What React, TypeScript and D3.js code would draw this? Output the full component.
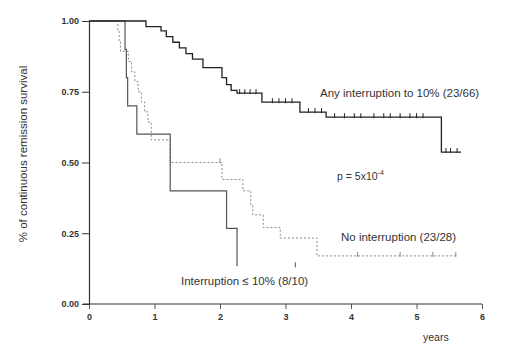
import * as d3 from "d3";
import { useEffect, useRef } from "react";

const WIDTH = 517;
const HEIGHT = 345;

// Kaplan-Meier step points (time in years, survival after each step)
const anyTimes = [0, 0.87, 1.1, 1.18, 1.28, 1.38, 1.48, 1.58, 1.74, 2.03, 2.1, 2.17, 2.26, 2.64, 3.22, 3.62, 5.38, 5.68];
const anySurv = [1, 0.98, 0.965, 0.945, 0.925, 0.905, 0.885, 0.865, 0.835, 0.8, 0.775, 0.755, 0.745, 0.713, 0.678, 0.66, 0.537, 0.537];
const anyCensored = [2.3, 2.38, 2.46, 2.55, 2.8, 2.9, 3.0, 3.1, 3.35, 3.45, 3.55, 3.75, 3.9, 4.05, 4.15, 4.35, 4.5, 4.6, 4.75, 4.9, 5.0, 5.1, 5.45, 5.52, 5.62];

const intTimes = [0, 0.55, 0.57, 0.59, 0.73, 1.24, 2.1, 2.26];
const intSurv = [1, 0.9, 0.8, 0.7, 0.6, 0.4, 0.267, 0.133];
const intCensored = [3.15];

const noTimes = [0, 0.44, 0.46, 0.48, 0.6, 0.65, 0.7, 0.75, 0.8, 0.85, 0.9, 0.95, 1.24, 2.03, 2.35, 2.47, 2.5, 2.66, 2.92, 3.48, 5.62];
const noSurv = [1, 0.964, 0.929, 0.893, 0.857, 0.821, 0.786, 0.75, 0.714, 0.679, 0.643, 0.58, 0.5, 0.44, 0.4, 0.35, 0.315, 0.27, 0.233, 0.17, 0.17];
const noCensored = [2.0, 4.1, 4.75, 5.25, 5.6];

const xTicks = [0, 1, 2, 3, 4, 5, 6];
const yTicks = [0, 0.25, 0.5, 0.75, 1];

export default function App() {
  const svgRef = useRef<SVGSVGElement>(null);

  useEffect(() => {
    const svg = d3.select(svgRef.current);
    svg.selectAll("*").remove();

    const x = d3.scaleLinear().domain([0, 6]).range([89, 482]);
    const y = d3.scaleLinear().domain([0, 1]).range([304, 21]);
    const font = "Liberation Sans, Arial, sans-serif";

    // axes
    const xAxis = svg
      .append("g")
      .attr("transform", "translate(0,304)")
      .call(d3.axisBottom(x).tickValues(xTicks).tickFormat(d3.format("d")).tickSize(5).tickSizeOuter(0));
    xAxis.select(".domain").attr("stroke", "#333").attr("stroke-width", 1.2).attr("d", "M83,0H482");
    xAxis.selectAll("line").attr("stroke", "#555");
    xAxis.selectAll("text").attr("font-family", font).attr("font-size", 9).attr("font-weight", "bold").attr("fill", "#333").attr("dy", "0.9em");

    const yAxis = svg
      .append("g")
      .attr("transform", "translate(89,0)")
      .call(d3.axisLeft(y).tickValues(yTicks).tickFormat(d3.format(".2f")).tickSize(7).tickSizeOuter(0));
    yAxis.select(".domain").attr("stroke", "#333").attr("stroke-width", 1.2);
    yAxis.selectAll("line").attr("stroke", "#333");
    yAxis.selectAll("text").attr("font-family", font).attr("font-size", 9).attr("font-weight", "bold").attr("fill", "#333");

    const stepLine = d3
      .line<[number, number]>()
      .x((d) => x(d[0]))
      .y((d) => y(d[1]))
      .curve(d3.curveStepAfter);

    const series = [
      { t: noTimes, s: noSurv, c: noCensored, color: "#888", width: 1, dash: "2,2" },
      { t: intTimes, s: intSurv, c: intCensored, color: "#555", width: 1.2, dash: null },
      { t: anyTimes, s: anySurv, c: anyCensored, color: "#222", width: 1.3, dash: null },
    ];

    series.forEach((ser) => {
      const pts: [number, number][] = ser.t.map((t, i) => [t, ser.s[i]]);
      svg
        .append("path")
        .datum(pts)
        .attr("fill", "none")
        .attr("stroke", ser.color)
        .attr("stroke-width", ser.width)
        .attr("stroke-dasharray", ser.dash)
        .attr("d", stepLine);

      ser.c.forEach((ct) => {
        const idx = Math.max(0, d3.bisectRight(ser.t, ct) - 1);
        const sv = ser.s[idx];
        svg
          .append("line")
          .attr("x1", x(ct))
          .attr("x2", x(ct))
          .attr("y1", y(sv) - 4)
          .attr("y2", y(sv) + 1)
          .attr("stroke", ser.color)
          .attr("stroke-width", 1);
      });
    });

    const label = (tx: number, ty: number, str: string, size = 11.5) =>
      svg
        .append("text")
        .attr("x", tx)
        .attr("y", ty)
        .attr("font-family", font)
        .attr("font-size", size)
        .attr("fill", "#333")
        .text(str);

    label(320, 97, "Any interruption to 10% (23/66)");
    label(341, 241, "No interruption (23/28)");
    label(181, 285, "Interruption \u2264 10% (8/10)");
    const p = label(337, 180, "p = 5x10", 10.5);
    p.append("tspan").attr("font-size", 7).attr("dy", -5).text("-4");
    label(423, 341, "years", 10.5);

    svg
      .append("text")
      .attr("transform", "translate(27,154) rotate(-90)")
      .attr("text-anchor", "middle")
      .attr("font-family", font)
      .attr("font-size", 11.5)
      .attr("fill", "#333")
      .text("% of continuous remission survival");
  }, []);

  return (
    <svg
      ref={svgRef}
      width={WIDTH}
      height={HEIGHT}
      style={{ position: "absolute", left: 0, top: 0, background: "#fff" }}
    />
  );
}
